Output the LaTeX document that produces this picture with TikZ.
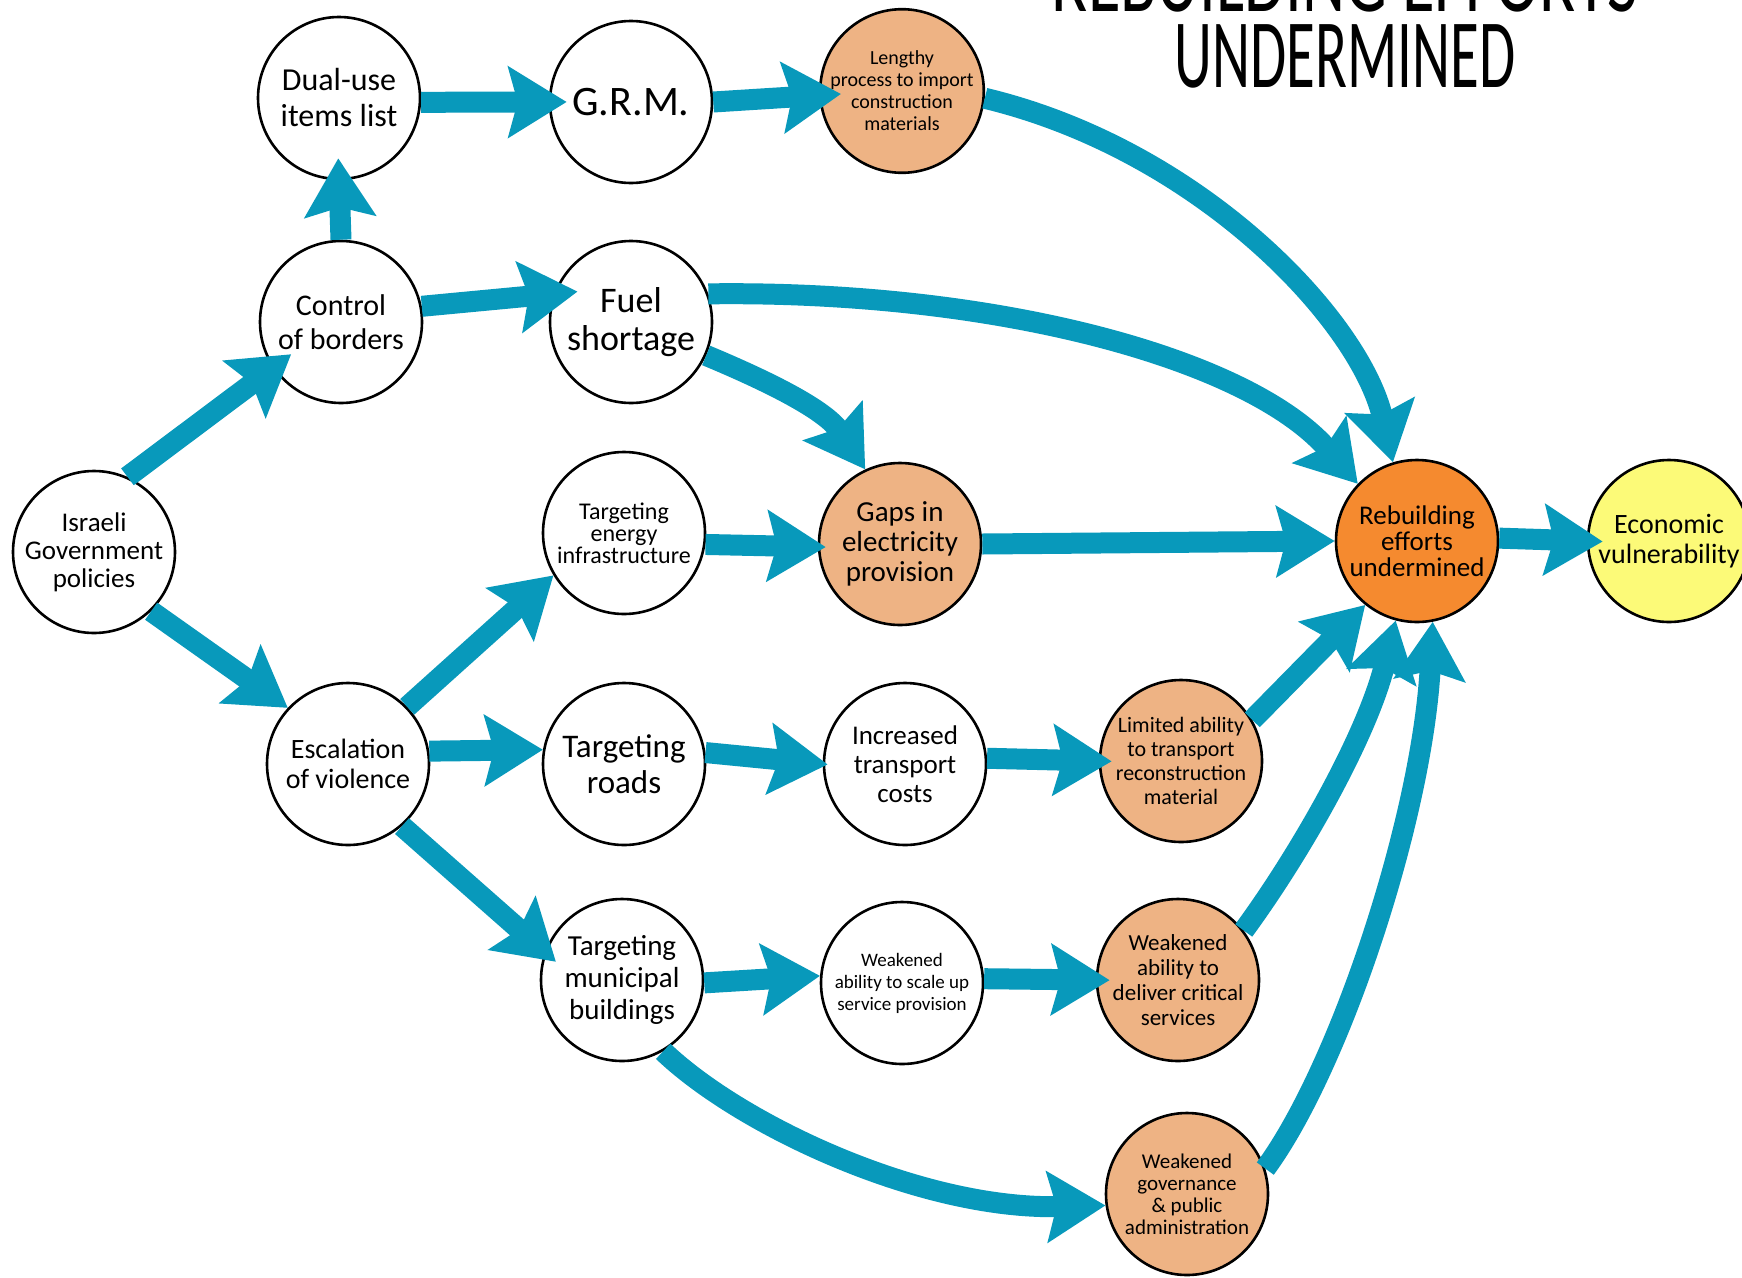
\documentclass[tikz,border=0pt]{standalone}
\usepackage{fontspec}
\usepackage{graphicx}
\setmainfont{Carlito}
\usetikzlibrary{arrows.meta}
\definecolor{arrowc}{HTML}{0899BB}
\definecolor{peachc}{HTML}{EEB384}
\definecolor{orangec}{HTML}{F58A2F}
\definecolor{yellowc}{HTML}{FCFA78}
\newcommand{\fs}[2]{\fontsize{#1}{#2}\selectfont}
\tikzset{
  bub/.style={circle, draw=black, line width=2.6pt, minimum size=162pt, inner sep=0pt, align=center, fill=white},
  peach/.style={bub, fill=peachc},
  arr/.style={draw=arrowc, line width=21pt, -{Stealth[length=58pt,width=70pt,inset=9pt]}},
  ttl/.style={inner sep=0pt, align=center, font=\fs{98}{76}},
}
\begin{document}
\begin{tikzpicture}[x=1pt,y=-1pt]
\useasboundingbox (0,0) rectangle (1742,1277);
\clip (0,0) rectangle (1742,1277);
\fill[white] (0,0) rectangle (1742,1277);

% title (top line cut by the page edge, as in the reference)
\node[ttl, anchor=north] (title) at (1345,-52) {\scalebox{0.68}[1]{REBUILDING EFFORTS}\\\scalebox{0.6}[1]{UNDERMINED}};

% nodes
\node[bub, font=\fs{27}{28}] (isr) at (94,552) {Israeli\\Government\\policies};
\node[bub, font=\fs{30}{34}] (ctl) at (341,322) {Control\\of borders};
\node[bub, font=\fs{32}{36}] (dual) at (339,98) {Dual-use\\items list};
\node[bub, font=\fs{42}{44}] (grm) at (631,102) {G.R.M.};
\node[peach, font=\fs{20}{22}] (len) at (902,91) {Lengthy\\process to import\\construction\\materials};
\node[bub, font=\fs{36}{38}] (fuel) at (631,322) {Fuel\\shortage};
\node[bub, font=\fs{24}{22}] (ener) at (624,533) {Targeting\\energy\\infrastructure};
\node[peach, font=\fs{29}{30}] (gaps) at (900,544) {Gaps in\\electricity\\provision};
\node[bub, font=\fs{28}{30}] (esc) at (348,764) {Escalation\\of violence};
\node[bub, font=\fs{33}{36}] (roads) at (624,764) {Targeting\\roads};
\node[bub, font=\fs{27}{29}] (incr) at (905,764) {Increased\\transport\\costs};
\node[peach, font=\fs{22}{24}] (lim) at (1181,761) {Limited ability\\to transport\\reconstruction\\material};
\node[bub, font=\fs{29}{32}] (muni) at (622,980) {Targeting\\municipal\\buildings};
\node[bub, font=\fs{19}{22}] (wscale) at (902,983) {Weakened\\ability to scale up\\service provision};
\node[peach, font=\fs{23}{25}] (wdel) at (1178,980) {Weakened\\ability to\\deliver critical\\services};
\node[peach, font=\fs{21}{22}] (wgov) at (1187,1194) {Weakened\\governance\\\& public\\administration};
\node[bub, fill=orangec, font=\fs{27}{26}] (reb) at (1417,541) {Rebuilding\\efforts\\undermined};
\node[bub, fill=yellowc, font=\fs{28}{30}] (eco) at (1669,541) {Economic\\vulnerability};

% connectors
\draw[arr, shorten >=-23pt] (isr.66) -- (ctl.214);
\draw[arr] (isr.-46) -- (esc.137);
\draw[arr, shorten >=-22pt] (ctl.90) -- (dual.270);
\draw[arr, shorten >=-18pt] (dual.-3) -- (grm.180);
\draw[arr, shorten >=-22pt] (grm.0) -- (len.183);
\draw[arr] (len.-5) .. controls (1200,150) and (1360,320) .. (reb.107);
\draw[arr, shorten >=-24pt] (ctl.11) -- (fuel.160);
\draw[arr] (fuel.20) .. controls (1000,290) and (1250,360) .. (reb.136);
\draw[arr] (fuel.-24) .. controls +(60,25) and +(-40,-60) .. (gaps.115);
\draw[arr, shorten >=-8pt] (ener.-8) -- (gaps.182);
\draw[arr] (gaps.0) -- (reb.180);
\draw[arr] (esc.44) -- (ener.211);
\draw[arr] (esc.9) -- (roads.170);
\draw[arr, shorten >=-15pt] (esc.-49) -- (muni.160);
\draw[arr, shorten >=-5pt] (roads.8) -- (incr.180);
\draw[arr, shorten >=-13pt] (incr.4) -- (lim.180);
\draw[arr] (lim.30) -- (reb.231);
\draw[arr] (muni.-2) -- (wscale.175);
\draw[arr, shorten >=-14pt] (wscale.3) -- (wdel.180);
\draw[arr] (wdel.37) .. controls (1302,851) and (1367,735) .. (reb.255);
\draw[arr] (muni.-60) .. controls (739,1124) and (920,1210) .. (wgov.188);
\draw[arr] (wgov.18) .. controls (1340,1067) and (1422,818) .. (reb.281);
\draw[arr, shorten >=-16pt] (reb.2) -- (eco.180);
\end{tikzpicture}
\end{document}
